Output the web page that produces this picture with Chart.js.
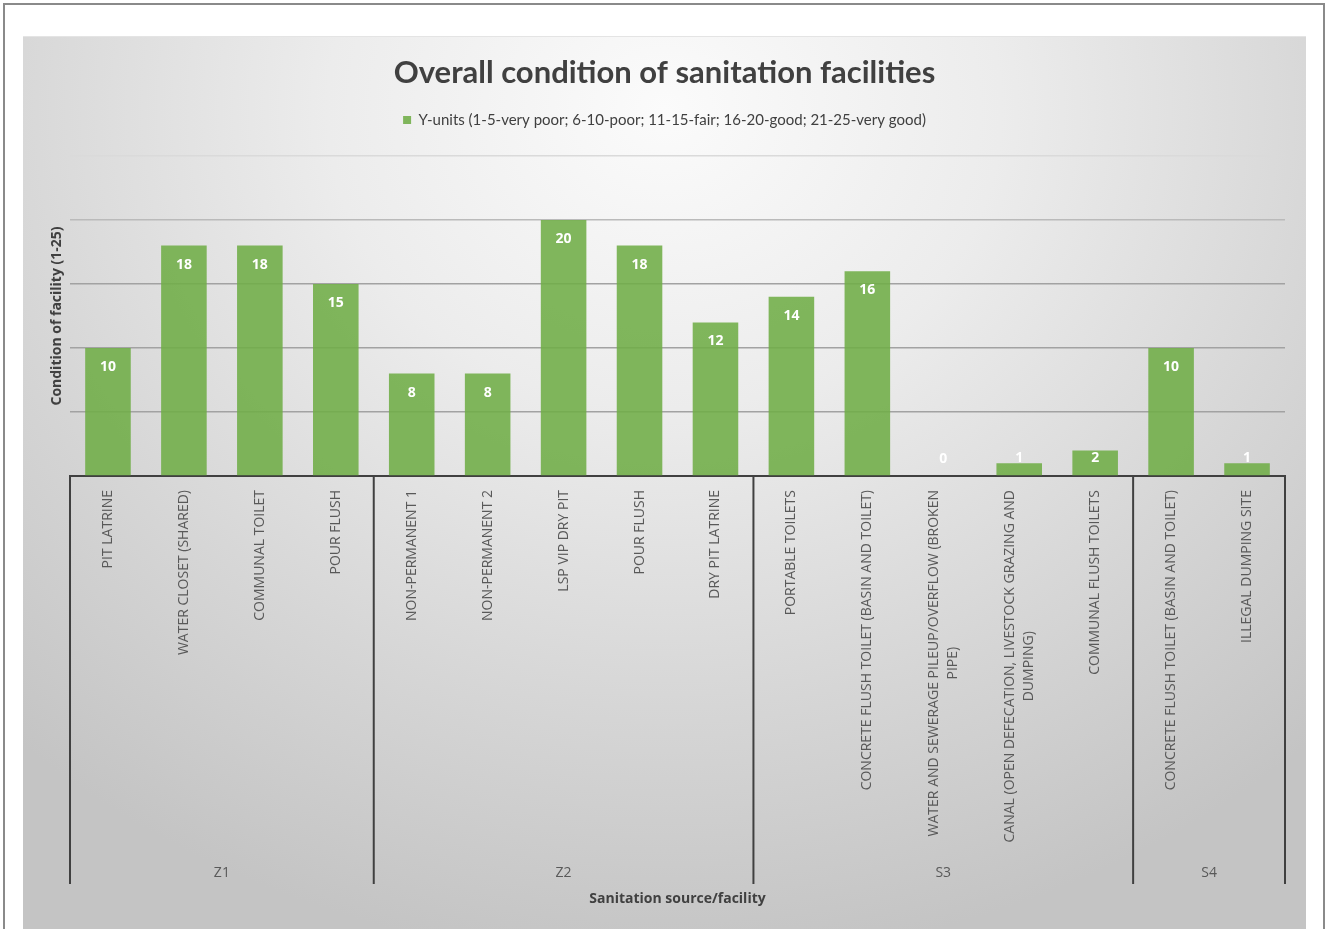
<!DOCTYPE html>
<html>
<head>
<meta charset="utf-8">
<script src="https://cdn.jsdelivr.net/npm/chart.js@4"></script>
<style>
  html, body { margin: 0; padding: 0; background: #fff; overflow: hidden; }
  body { width: 1327px; height: 929px; position: relative; }
  #frame {
    position: absolute; left: 3px; top: 3px; width: 1318px; height: 960px;
    border: 2px solid #8a8a8a;
  }
  #panel {
    position: absolute; left: 23px; top: 36px; width: 1283px; height: 900px;
    border-top: 1px solid #e4e4e4;
    background: radial-gradient(ellipse 75% 95% at 50% 8%, #fbfbfb 0%, #ececec 35%, #d6d6d6 70%, #c4c4c4 100%);
  }
  #chart { position: absolute; left: 23px; top: 36px; }
</style>
</head>
<body>
<div id="frame"></div>
<div id="panel"></div>
<canvas id="chart" width="1283" height="893"></canvas>
<script>
// categories (multi-line where the original wraps)
const categories = [
  ["PIT LATRINE"], ["WATER CLOSET (SHARED)"], ["COMMUNAL TOILET"], ["POUR FLUSH"],
  ["NON-PERMANENT 1"], ["NON-PERMANENT 2"], ["LSP VIP DRY PIT"], ["POUR FLUSH"], ["DRY PIT LATRINE"],
  ["PORTABLE TOILETS"], ["CONCRETE FLUSH TOILET (BASIN AND TOILET)"],
  ["WATER AND SEWERAGE PILEUP/OVERFLOW (BROKEN", "PIPE)"],
  ["CANAL (OPEN DEFECATION, LIVESTOCK GRAZING AND", "DUMPING)"],
  ["COMMUNAL FLUSH TOILETS"],
  ["CONCRETE FLUSH TOILET (BASIN AND TOILET)"], ["ILLEGAL DUMPING SITE"]
];
const groupNames = ["Z1", "Z2", "S3", "S4"];
const groupSizes = [4, 5, 5, 2];
const values = [10, 18, 18, 15, 8, 8, 20, 18, 12, 14, 16, 0, 1, 2, 10, 1];
const yTicks = [0, 5, 10, 15, 20, 25];
const seriesName = "Y-units (1-5-very poor; 6-10-poor; 11-15-fair; 16-20-good; 21-25-very good)";

Chart.defaults.font.family = '"Open Sans", sans-serif';
Chart.defaults.color = "#595959";

// white value labels just inside the bar top
const valueLabels = {
  id: "valueLabels",
  afterDatasetsDraw(chart) {
    const ctx = chart.ctx;
    const meta = chart.getDatasetMeta(0);
    ctx.save();
    ctx.font = 'bold 14px "Open Sans"';
    ctx.fillStyle = "#ffffff";
    ctx.textAlign = "center";
    ctx.textBaseline = "middle";
    meta.data.forEach((bar, i) => {
      const y = Math.min(bar.y + 19, bar.base - 17);
      ctx.fillText(String(values[i]), bar.x, y);
    });
    ctx.restore();
  }
};

// rotated category labels + group boxes under the axis
const groupedAxis = {
  id: "groupedAxis",
  afterDraw(chart) {
    const ctx = chart.ctx;
    const x = chart.scales.x;
    const base = chart.chartArea.bottom;
    const bottom = base + 408;
    ctx.save();

    ctx.font = '14px "Open Sans"';
    ctx.fillStyle = "#595959";
    ctx.textBaseline = "middle";
    ctx.textAlign = "center";
    categories.forEach((lines, i) => {
      const cx = x.getPixelForValue(i);
      const w = Math.max(...lines.map(l => ctx.measureText(l).width));
      ctx.save();
      ctx.translate(cx, base + 14);
      ctx.rotate(-Math.PI / 2);
      lines.forEach((l, j) => {
        ctx.fillText(l, -w / 2, (j - (lines.length - 1) / 2) * 19);
      });
      ctx.restore();
    });

    // separators
    const edges = [x.left];
    let n = 0;
    groupSizes.forEach(s => {
      n += s;
      edges.push(n === categories.length ? x.right
        : (x.getPixelForValue(n - 1) + x.getPixelForValue(n)) / 2);
    });
    ctx.strokeStyle = "#404040";
    ctx.lineWidth = 2;
    edges.forEach(ex => {
      ctx.beginPath();
      ctx.moveTo(ex, base - 1);
      ctx.lineTo(ex, bottom);
      ctx.stroke();
    });

    ctx.font = '14px "Open Sans"';
    ctx.fillStyle = "#595959";
    groupNames.forEach((g, i) => {
      ctx.fillText(g, (edges[i] + edges[i + 1]) / 2, base + 397);
    });
    ctx.restore();
  }
};

function draw() {
  new Chart(document.getElementById("chart"), {
    type: "bar",
    data: {
      labels: categories,
      datasets: [{
        label: seriesName,
        data: values,
        xAxisID: "x",
        yAxisID: "y",
        backgroundColor: "rgba(112, 173, 71, 0.88)",
        borderWidth: 0,
        barPercentage: 0.6,
        categoryPercentage: 1
      }]
    },
    options: {
      responsive: false,
      animation: false,
      layout: { padding: 0 },
      plugins: {
        title: {
          display: true,
          text: "Overall condition of sanitation facilities",
          color: "#404040",
          font: { family: "Lato", size: 31, weight: "bold" },
          padding: { top: 18.4, bottom: 10.9 }
        },
        legend: {
          display: true,
          labels: {
            boxWidth: 8, boxHeight: 8, padding: 10,
            color: "#404040",
            font: { family: "Lato", size: 15 }
          }
        },
        tooltip: { enabled: false }
      },
      scales: {
        x: {
          position: "bottom",
          grid: { display: false },
          border: { display: true, color: "#404040", width: 2 },
          ticks: { display: false },
          title: {
            display: true,
            text: "Sanitation source/facility",
            color: "#404040",
            font: { size: 14, weight: "bold" },
            padding: { top: 0, bottom: 22 }
          },
          afterFit(s) { s.height = 453; }
        },
        y: {
          min: 0, max: 25,
          afterBuildTicks(s) { s.ticks = yTicks.map(v => ({ value: v })); },
          ticks: { display: false },
          border: { display: false },
          grid: {
            drawTicks: false,
            lineWidth: 1.5,
            color(c) {
              const v = c.tick.value;
              if (v === 25) return "#dadada";
              if (v === 20) return "#bababa";
              return "#a2a2a2";
            }
          },
          title: {
            display: true,
            text: "Condition of facility (1-25)",
            color: "#404040",
            font: { size: 14, weight: "bold" },
            padding: { top: 26, bottom: 0 }
          },
          afterFit(s) { s.width = 47; }
        },
        spacer: {
          type: "category",
          position: "top",
          labels: categories,
          grid: { display: false },
          border: { display: false },
          ticks: { display: false },
          afterFit(s) { s.height = 18.5; }
        },
        rightSpacer: {
          type: "linear",
          position: "right",
          grid: { display: false },
          border: { display: false },
          ticks: { display: false },
          afterFit(s) { s.width = 21; }
        }
      }
    },
    plugins: [valueLabels, groupedAxis]
  });
}

Promise.all([
  document.fonts.load('bold 31px "Lato"'),
  document.fonts.load('15px "Lato"'),
  document.fonts.load('14px "Open Sans"'),
  document.fonts.load('bold 14px "Open Sans"')
]).then(draw, draw);
</script>
</body>
</html>
